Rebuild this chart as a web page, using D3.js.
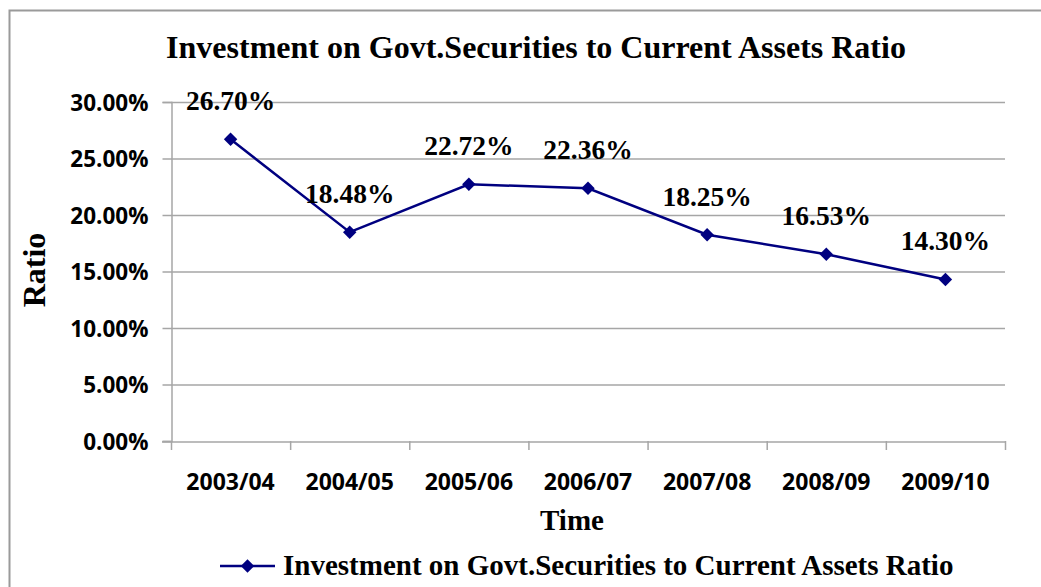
<!DOCTYPE html>
<html>
<head>
<meta charset="utf-8">
<script src="https://cdn.jsdelivr.net/npm/d3@7"></script>
<style>
  html, body { margin: 0; padding: 0; background: #fff; }
  svg { display: block; }
</style>
</head>
<body>
<svg id="chart" width="1041" height="587"></svg>
<script>
const categories = ["2003/04", "2004/05", "2005/06", "2006/07", "2007/08", "2008/09", "2009/10"];
const values = [26.70, 18.48, 22.72, 22.36, 18.25, 16.53, 14.30];
const yTicks = [0, 5, 10, 15, 20, 25, 30];
const title = "Investment on Govt.Securities to Current Assets Ratio";
const seriesName = "Investment on Govt.Securities to Current Assets Ratio";
const xTitle = "Time";
const yTitle = "Ratio";

(function () {
const svg = d3.select("#chart");
const serif = "'Liberation Serif', 'Times New Roman', serif";
const sans = "'Open Sans', 'Liberation Sans', sans-serif";
const navy = "#000080";
const gridColor = "#a6a6a6";

// outer frame
svg.append("path")
  .attr("d", "M9.5,600 V10.5 H1050")
  .attr("fill", "none").attr("stroke", "#9a9a9a").attr("stroke-width", 2);

const pLeft = 171, pRight = 1005, pTop = 102, pBottom = 441;

const x = d3.scaleBand().domain(categories).range([pLeft, pRight]).padding(0);
const y = d3.scaleLinear().domain([0, 30]).range([pBottom, pTop]);

// gridlines
svg.append("g").selectAll("line").data(yTicks.filter(d => d > 0)).join("line")
  .attr("x1", pLeft).attr("x2", pRight)
  .attr("y1", d => y(d) + 0.5).attr("y2", d => y(d) + 0.5)
  .attr("stroke", gridColor).attr("stroke-width", 1.5);

// y axis
const yAxis = svg.append("g").attr("transform", `translate(${pLeft + 0.5},0)`)
  .call(d3.axisLeft(y).tickValues(yTicks).tickFormat(d => d.toFixed(2) + "%").tickSizeOuter(0).tickSize(9).tickPadding(14));
yAxis.select(".domain").attr("stroke", gridColor).attr("stroke-width", 1.5);
yAxis.selectAll(".tick line").attr("stroke", gridColor).attr("stroke-width", 1.5);
yAxis.selectAll("text").attr("font-family", sans).attr("font-weight", "bold")
  .attr("font-size", 22.5).attr("fill", "#000").attr("dy", "0.36em");

// x axis
const xAxis = svg.append("g").attr("transform", `translate(0,${pBottom + 0.5})`)
  .call(d3.axisBottom(x).tickSize(0).tickPadding(32));
xAxis.select(".domain").attr("stroke", gridColor).attr("stroke-width", 1.5)
  .attr("d", `M${pLeft - 9},0.5H${pRight}`);
xAxis.selectAll("text").attr("font-family", sans).attr("font-weight", "bold")
  .attr("font-size", 23).attr("fill", "#000");
// category boundary ticks
svg.append("g").selectAll("line").data(categories.concat(["end"])).join("line")
  .attr("x1", (d, i) => i < categories.length ? x(d) + 0.5 : pRight + 0.5)
  .attr("x2", (d, i) => i < categories.length ? x(d) + 0.5 : pRight + 0.5)
  .attr("y1", pBottom).attr("y2", pBottom + 9)
  .attr("stroke", gridColor).attr("stroke-width", 1.5);

// line
const cx = d => x(d) + x.bandwidth() / 2;
const data = categories.map((c, i) => ({ c, v: values[i] }));
svg.append("path").datum(data)
  .attr("d", d3.line().x(d => cx(d.c)).y(d => y(d.v)))
  .attr("fill", "none").attr("stroke", navy).attr("stroke-width", 2.5);

const diamond = d3.symbol().type(d3.symbolDiamond2).size(115);
svg.append("g").selectAll("path").data(data).join("path")
  .attr("d", diamond)
  .attr("transform", d => `translate(${cx(d.c)},${y(d.v)})`)
  .attr("fill", navy);

// data labels
svg.append("g").selectAll("text").data(data).join("text")
  .attr("x", d => cx(d.c)).attr("y", d => y(d.v) - 29)
  .attr("text-anchor", "middle")
  .attr("font-family", serif).attr("font-weight", "bold").attr("font-size", 27.5)
  .text(d => d.v.toFixed(2) + "%");

// title
svg.append("text").attr("x", 536).attr("y", 58).attr("text-anchor", "middle")
  .attr("font-family", serif).attr("font-weight", "bold").attr("font-size", 32)
  .text(title);

// axis titles
svg.append("text").attr("x", 572).attr("y", 530).attr("text-anchor", "middle")
  .attr("font-family", serif).attr("font-weight", "bold").attr("font-size", 29)
  .text(xTitle);
svg.append("text").attr("transform", "translate(45,270) rotate(-90)").attr("text-anchor", "middle")
  .attr("font-family", serif).attr("font-weight", "bold").attr("font-size", 32)
  .text(yTitle);

// legend
svg.append("line").attr("x1", 220).attr("x2", 275).attr("y1", 566).attr("y2", 566)
  .attr("stroke", navy).attr("stroke-width", 2.5);
svg.append("path").attr("d", diamond).attr("transform", "translate(247.5,566)").attr("fill", navy);
svg.append("text").attr("x", 283).attr("y", 575)
  .attr("font-family", serif).attr("font-weight", "bold").attr("font-size", 29)
  .text(seriesName);
})();
</script>
</body>
</html>
